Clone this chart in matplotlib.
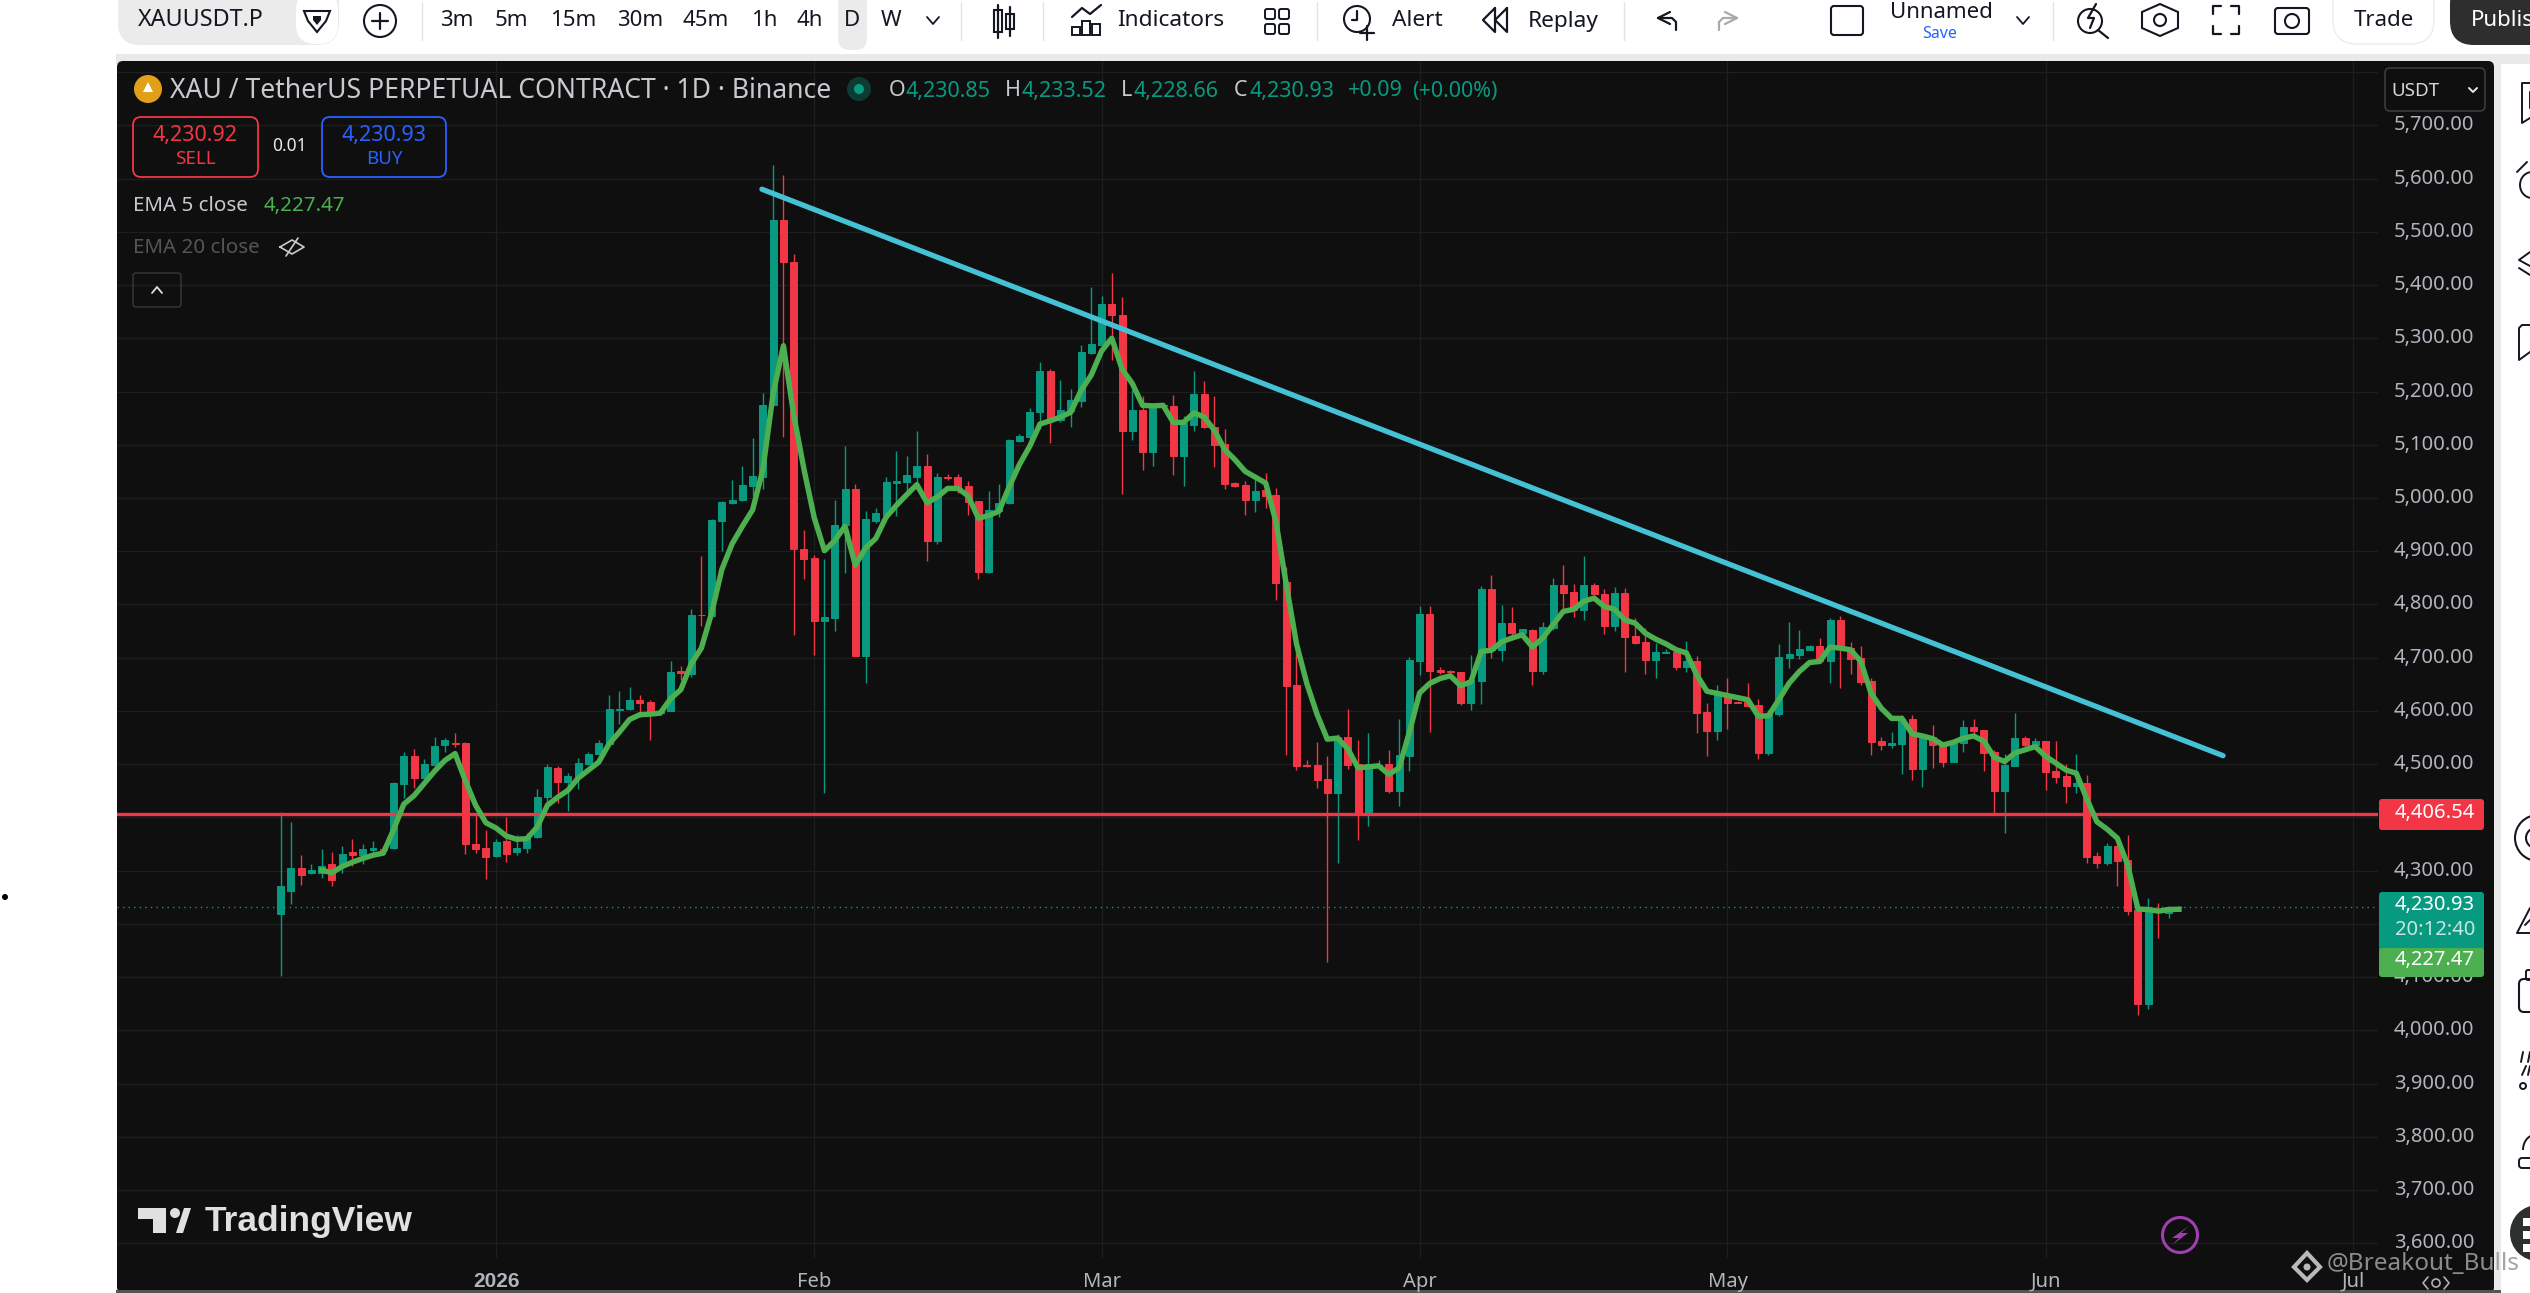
import matplotlib
matplotlib.use('Agg')
import matplotlib.pyplot as plt
import numpy as np
from matplotlib.patches import Rectangle, FancyBboxPatch, Circle, Polygon, Arc
from matplotlib.transforms import ScaledTranslation

plt.rcParams['font.family'] = ['Noto Sans', 'DejaVu Sans']

# daily candles from 11 Dec, index 21 is 1 Jan 2026
opens = [4219,4261,4305,4295,4296,4313,4312,4335,4329,4339,
         4340,4342,4463,4516,4475,4498,4536,4540,4539,4351,
         4343,4327,4356,4335,4342,4363,4438,4492,4466,4476,
         4501,4520,4537,4602,4604,4621,4616,4596,4600,4675,
         4669,4781,4779,4956,4990,4996,5022,5039,5174,5522,
         5444,4904,4887,4769,4775,4950,5016,4703,4957,4969,
         5029,5030,5040,5061,4919,5039,5039,5022,4994,4861,
         4976,4990,5107,5114,5161,5239,5147,5163,5183,5272,
         5288,5365,5344,5125,5166,5086,5172,5172,5078,5138,
         5196,5134,5102,5028,5024,4997,5015,5005,4842,4648,
         4499,4499,4472,4445,4551,4500,4406,4497,4500,4450,
         4516,4694,4782,4676,4675,4673,4615,4657,4829,4715,
         4765,4746,4752,4675,4756,4837,4824,4790,4837,4820,
         4760,4822,4741,4730,4696,4709,4711,4683,4694,4598,
         4563,4631,4617,4617,4612,4521,4595,4700,4705,4715,
         4722,4694,4771,4719,4700,4657,4544,4536,4538,4585,
         4491,4551,4538,4505,4540,4570,4565,4523,4450,4497,
         4550,4536,4544,4488,4478,4459,4465,4328,4315,4347,
         4320,4227,4050,4225,4221,4230.85]
highs = [4411,4391,4330,4312,4341,4335,4346,4360,4350,4355,
         4346,4467,4522,4528,4509,4552,4549,4558,4541,4407,
         4376,4360,4400,4367,4370,4453,4501,4496,4484,4512,
         4522,4545,4630,4637,4645,4630,4620,4600,4693,4685,
         4792,4891,4961,4995,5034,5061,5112,5197,5626,5606,
         5459,4939,4893,4886,4997,5097,5027,4975,4982,5040,
         5088,5078,5125,5083,5047,5045,5045,5031,4994,5014,
         5026,5110,5121,5169,5255,5242,5221,5204,5288,5397,
         5380,5422,5378,5202,5192,5175,5179,5194,5154,5238,
         5220,5191,5129,5030,5031,5036,5047,5018,4870,4740,
         4507,4542,4516,4557,4603,4545,4559,4507,4527,4585,
         4701,4798,4798,4682,4676,4673,4705,4835,4856,4799,
         4795,4754,4754,4767,4850,4874,4839,4891,4840,4829,
         4832,4831,4774,4755,4727,4717,4715,4732,4703,4615,
         4649,4662,4619,4653,4623,4602,4726,4767,4752,4724,
         4737,4774,4779,4730,4722,4662,4551,4560,4593,4593,
         4553,4574,4542,4546,4583,4585,4565,4527,4520,4596,
         4553,4550,4544,4544,4500,4520,4480,4336,4352,4350,
         4367,4229,4249,4239,4233,4233.52]
lows = [4102,4237,4273,4293,4286,4271,4295,4308,4313,4331,
        4331,4341,4436,4456,4473,4497,4523,4533,4331,4333,
        4284,4325,4316,4329,4333,4362,4428,4428,4413,4453,
        4499,4518,4535,4576,4602,4589,4545,4594,4599,4659,
        4664,4759,4777,4901,4988,4995,5003,5017,5173,5115,
        4743,4848,4706,4446,4751,4859,4703,4653,4953,4967,
        4967,5013,5027,4882,4914,5034,5009,4968,4847,4860,
        4965,4988,5106,5108,5130,5103,5142,5134,5170,5270,
        5287,5260,5007,5108,5052,5061,5169,5043,5022,5125,
        5131,5058,5016,5021,4968,4973,4981,4808,4517,4490,
        4495,4455,4128,4314,4491,4358,4383,4495,4446,4421,
        4487,4668,4560,4669,4672,4612,4602,4613,4700,4694,
        4734,4745,4649,4670,4752,4790,4777,4771,4818,4745,
        4750,4673,4726,4670,4662,4708,4677,4673,4559,4516,
        4546,4566,4615,4608,4509,4518,4591,4681,4698,4715,
        4691,4653,4643,4670,4649,4518,4527,4531,4482,4471,
        4458,4493,4495,4504,4523,4555,4488,4408,4371,4496,
        4533,4533,4452,4465,4428,4446,4315,4305,4311,4272,
        4217,4028,4041,4174,4212,4228.66]
closes = [4272,4305,4292,4302,4309,4282,4331,4330,4340,4342,
          4338,4465,4516,4475,4501,4534,4545,4537,4351,4340,
          4325,4354,4332,4343,4363,4439,4494,4466,4477,4503,
          4520,4539,4603,4603,4621,4615,4597,4600,4674,4672,
          4781,4780,4958,4992,4997,5024,5041,5175,5522,5443,
          4904,4886,4769,4776,4950,5017,4703,4960,4971,5030,
          5031,5043,5061,4919,5039,5037,5021,4992,4861,4978,
          4991,5108,5116,5162,5239,5148,5165,5185,5274,5290,
          5365,5343,5125,5166,5086,5169,5175,5078,5141,5196,
          5133,5100,5026,5023,4997,5014,5004,4840,4647,4497,
          4497,4471,4445,4552,4499,4408,4500,4499,4450,4517,
          4696,4782,4675,4674,4674,4615,4658,4829,4715,4765,
          4746,4753,4675,4757,4837,4822,4790,4837,4820,4760,
          4822,4739,4728,4696,4711,4711,4683,4693,4596,4563,
          4631,4615,4615,4610,4521,4596,4702,4707,4717,4722,
          4694,4771,4717,4698,4655,4542,4536,4540,4585,4491,
          4550,4536,4505,4542,4570,4562,4521,4450,4499,4550,
          4536,4544,4486,4476,4459,4465,4326,4315,4347,4319,
          4225,4050,4227,4224,4232,4230.93]
# EMA 5 as drawn, starts at candle 4
ema5 = [4301,4296,4308,4316,4323,4329,4333,4377,4425,4441,
        4464,4487,4507,4520,4469,4423,4390,4380,4365,4359,
        4360,4382,4423,4438,4451,4474,4489,4504,4538,4560,
        4584,4593,4594,4596,4623,4640,4688,4718,4784,4866,
        4914,4947,4978,5054,5197,5286,5156,5054,4963,4901,
        4920,4947,4874,4906,4924,4964,4986,5006,5025,4991,
        5002,5018,5018,5004,4962,4967,4975,5021,5063,5097,
        5139,5145,5152,5161,5202,5231,5276,5300,5242,5215,
        5174,5173,5174,5142,5142,5160,5152,5127,5091,5072,
        5050,5039,5028,4955,4838,4726,4652,4594,4547,4549,
        4529,4493,4495,4497,4481,4493,4560,4634,4652,4661,
        4666,4647,4655,4712,4714,4730,4737,4743,4720,4737,
        4762,4787,4791,4806,4812,4796,4791,4771,4765,4746,
        4735,4726,4715,4709,4668,4637,4633,4629,4625,4621,
        4590,4591,4621,4652,4674,4691,4693,4720,4718,4715,
        4693,4633,4605,4586,4586,4557,4553,4548,4536,4541,
        4549,4553,4543,4513,4505,4521,4527,4533,4515,4502,
        4489,4483,4436,4392,4378,4361,4311,4228,4227,4224,
        4227,4227.47]
price_ticks = [3600,3700,3800,3900,4000,4100,4200,4300,4400,4500,4600,
               4700,4800,4900,5000,5100,5200,5300,5400,5500,5600,5700,5800]
month_pos = [21, 52, 80, 111, 141, 172, 202]
month_labels = ['2026', 'Feb', 'Mar', 'Apr', 'May', 'Jun', 'Jul']
trend_x = [46.9, 189.3]
trend_y = [5580, 4516]
resistance = 4406.54
last_close = 4230.93

UP, DOWN = '#089981', '#f23645'
PANE = '#0f0f0f'
INK = '#131722'
LEG = '#c8cad0'
W, H = 2530, 1293

fig = plt.figure(figsize=(W / 100, H / 100), dpi=100, facecolor='white')


def px_axes(zorder):
    a = fig.add_axes([0, 0, 1, 1], zorder=zorder)
    a.set_xlim(0, W)
    a.set_ylim(H, 0)
    a.axis('off')
    return a


bg = px_axes(0)
top = px_axes(2)

# page background
bg.add_patch(Rectangle((116, 54), W - 116, 10, fc='#e9e9e9', ec='none'))
bg.add_patch(Rectangle((2493, 54), 8, H, fc='#e9e9e9', ec='none'))
bg.add_patch(FancyBboxPatch((123, 67), 2365, 1220, boxstyle='round,pad=6,rounding_size=6', fc=PANE, ec='none'))
bg.add_patch(Rectangle((116, 1290), 2385, 3, fc='#555555', ec='none'))

# price chart
L, R, T, B = 117, 2378, 61, 1258
ax = fig.add_axes([L / W, 1 - B / H, (R - L) / W, (B - T) / H], zorder=1)
ax.patch.set_alpha(0)
ax.set_xlim(-15.95, 204.4)
ax.set_ylim(3572.5, 5820.8)
for s in ax.spines.values():
    s.set_visible(False)
ax.set_yticks(price_ticks)
# the 5,800 line has no label, the currency box sits there
ax.set_yticklabels([f'{p:,.2f}' if p < 5800 else '' for p in price_ticks])
ax.yaxis.tick_right()
ax.set_xticks(month_pos)
ax.set_xticklabels(month_labels)
ax.tick_params(axis='y', length=0, pad=11.5, labelsize=14.5, labelcolor='#b2b5be')
ax.tick_params(axis='x', length=0, pad=10, labelsize=14.5, labelcolor='#b2b5be')
first = ax.get_xticklabels()[0]
first.set_fontfamily('Liberation Sans')
first.set_fontweight('bold')
first.set_fontsize(15)
ax.grid(True, color='#1e1e1e', lw=1)
ax.set_axisbelow(True)
# tick labels sit a little higher than the font centre gives
nudge = ScaledTranslation(0, 2.5 / 100, fig.dpi_scale_trans)
for t in ax.get_yticklabels():
    t.set_transform(t.get_transform() + nudge)

ax.axhline(last_close, color=UP, lw=1, ls=(0, (1, 3)), zorder=1.5)

idx = np.arange(len(closes))
o, h, l, c = map(np.array, (opens, highs, lows, closes))
colors = np.where(c >= o, UP, DOWN)
ax.vlines(idx, l, h, colors=colors, lw=1.0, zorder=2)
ax.bar(idx, np.abs(c - o), bottom=np.minimum(o, c), width=0.68, color=colors,
       edgecolor=colors, lw=0.7, zorder=3)
ax.plot(idx[4:], ema5, color='#4caf50', lw=3.9, zorder=4, solid_joinstyle='round')
ax.axhline(resistance, color=DOWN, lw=2.4, zorder=3.5)
ax.plot(trend_x, trend_y, color='#45c1d6', lw=3.8, zorder=5, solid_capstyle='round')


def label(x, y, s, size=14.5, color='black', ha='center', **kw):
    top.text(x, y, s, fontsize=size, color=color, ha=ha, va='center', **kw)


def outline(x, y, w, h, fc='none', ec='black', lw=1.4, r=5, a=top):
    a.add_patch(FancyBboxPatch((x + r, y + r), w - 2 * r, h - 2 * r,
                               boxstyle=f'round,pad={r},rounding_size={r}', fc=fc, ec=ec, lw=lw))


def line(xs, ys, color=INK, lw=1.6):
    top.plot(xs, ys, color=color, lw=lw, solid_capstyle='round', solid_joinstyle='round')


# toolbar
outline(118, -20, 221, 65, fc='#ebebeb', ec='none', r=22)
outline(296, -10, 42, 54, fc='white', ec='none', r=20)
label(201, 20, 'XAUUSDT.P', 16.8, INK)
top.add_patch(Polygon([(304, 11), (330, 11), (326, 21), (317, 32), (308, 21)], fc='none', ec=INK, lw=1.5))
top.add_patch(Polygon([(313, 16), (321, 16), (321, 20), (317, 25), (313, 20)], fc=INK, ec='none'))
top.add_patch(Circle((380, 21), 16, fc='none', ec=INK, lw=1.5))
line([372, 388], [21, 21]); line([380, 380], [13, 29])
outline(838, -20, 29, 70, fc='#ebebeb', ec='none', r=12)
for name, x in zip(['3m', '5m', '15m', '30m', '45m', '1h', '4h', 'D', 'W'],
                   [457, 511, 573, 640, 706, 764, 810, 852, 891]):
    label(x, 20, name, 16, INK)
line([927, 933, 939], [17, 24, 17], lw=1.3)
for x in [422, 961, 1043, 1317, 1624, 2053]:
    line([x, x], [2, 40], color='#e4e4e4', lw=1)
# candle icon
line([998, 998], [5, 38]); line([1010, 1010], [7, 36])
top.add_patch(Rectangle((994, 10), 8, 22, fc='white', ec=INK, lw=1.5))
top.add_patch(Rectangle((1006, 14), 8, 15, fc='white', ec=INK, lw=1.5))
# indicators icon
line([1072, 1082, 1090, 1101], [17, 8, 14, 5])
for xb, yb in zip([1072, 1082, 1092], [27, 21, 24]):
    top.add_patch(Rectangle((xb, yb), 8, 35 - yb, fc='none', ec=INK, lw=1.4))
label(1171, 20, 'Indicators', 16.3, INK)
for xb in [1265, 1279]:
    for yb in [9, 24]:
        outline(xb, yb, 10, 10, ec=INK, lw=1.4, r=2)
# alert icon
top.add_patch(Circle((1357, 19), 13, fc='none', ec=INK, lw=1.5))
line([1357, 1357, 1352], [11, 20, 20]); line([1360, 1374], [33, 33]); line([1367, 1367], [26, 40])
label(1417, 20, 'Alert', 16.3, INK)
line([1495, 1483, 1495, 1495], [8, 20, 32, 8]); line([1507, 1495, 1507, 1507], [8, 20, 32, 8])
label(1563, 21, 'Replay', 16.3, INK)
line([1670, 1658, 1670], [12, 18, 24]); line([1658, 1672, 1676, 1676], [18, 18, 22, 30])
line([1725, 1737, 1725], [12, 18, 24], color='#aaaaaa'); line([1737, 1723, 1719, 1719], [18, 18, 22, 30], color='#aaaaaa')
outline(1831, 6, 32, 29, ec=INK, lw=1.5, r=3)
label(1941, 13, 'Unnamed', 16, INK)
label(1940, 34, 'Save', 11.5, '#2962ff')
line([2017, 2023, 2029], [17, 24, 17], lw=1.3)
# search, hex, corners, camera icons
top.add_patch(Circle((2090, 21), 12, fc='none', ec=INK, lw=1.5))
line([2098, 2108], [30, 38]); line([2096, 2088, 2094, 2090], [4, 18, 18, 28])
top.add_patch(Polygon([(2160, 4), (2178, 12), (2178, 28), (2160, 36), (2142, 28), (2142, 12)], fc='none', ec=INK, lw=1.5))
top.add_patch(Circle((2160, 20), 6, fc='none', ec=INK, lw=1.5))
line([2213, 2213, 2221], [14, 6, 6]); line([2231, 2239, 2239], [6, 6, 14])
line([2213, 2213, 2221], [26, 34, 34]); line([2231, 2239, 2239], [34, 34, 26])
outline(2275, 8, 34, 26, ec=INK, lw=1.5, r=3)
top.add_patch(Circle((2292, 21), 7, fc='none', ec=INK, lw=1.5))
outline(2333, -20, 101, 64, fc='white', ec='#ececec', lw=1, r=24)
label(2384, 20, 'Trade', 16, INK)
outline(2450, -20, 120, 65, fc='#2e2e2e', ec='none', r=24)
label(2471, 20, 'Publis', 16, 'white', ha='left')

# legend
top.add_patch(Circle((148, 89), 14, fc='#e0a01a', ec='none'))
top.add_patch(Polygon([(148, 82), (153, 92), (143, 92)], fc='white', ec='none'))
label(170, 91, 'XAU / TetherUS PERPETUAL CONTRACT · 1D · Binance', 19.1, LEG, ha='left')
top.add_patch(Circle((859, 89), 12, fc='#0c3b33', ec='none'))
top.add_patch(Circle((859, 89), 5, fc=UP, ec='none'))
for x, s, col in [(889, 'O', LEG), (906, '4,230.85', UP), (1005, 'H', LEG), (1022, '4,233.52', UP),
                  (1121, 'L', LEG), (1134, '4,228.66', UP), (1234, 'C', LEG), (1250, '4,230.93', UP),
                  (1348, '+0.09', UP), (1412, '(+0.00%)', UP)]:
    label(x, 91, s, 15.5, col, ha='left')
outline(133, 117, 125, 60, ec=DOWN, lw=1.3, r=8)
label(195, 135, '4,230.92', 15.5, DOWN)
label(195, 159, 'SELL', 13.5, DOWN)
label(289, 146, '0.01', 12.5, '#e8e8e8')
outline(322, 117, 124, 60, ec='#2962ff', lw=1.3, r=8)
label(384, 135, '4,230.93', 15.5, '#2962ff')
label(384, 159, 'BUY', 13.5, '#2962ff')
label(133, 206, 'EMA 5 close', 14.8, LEG, ha='left')
label(264, 206, '4,227.47', 14.8, '#4caf50', ha='left')
label(133, 248, 'EMA 20 close', 14.8, '#555555', ha='left')
line([280, 292, 304, 292, 280], [247, 240, 247, 254, 247], color='#cccccc', lw=1.2)
line([286, 298], [256, 238], color='#cccccc', lw=1.2)
outline(133, 273, 48, 34, ec='#3a3a3a', lw=1, r=3)
line([152, 157, 162], [293, 287, 293], color='#dddddd', lw=1.3)

# price scale boxes
outline(2385, 68, 100, 43, fc=PANE, ec='#444444', lw=1, r=5)
label(2391, 91, 'USDT', 13.5, '#d8d8d8', ha='left')
line([2469, 2473, 2477], [88, 92, 88], color='#e8e8e8', lw=1.4)
outline(2379, 799, 105, 31, fc=DOWN, ec='none', r=3)
outline(2379, 892, 105, 60, fc=UP, ec='none', r=3)
outline(2379, 948, 105, 29, fc='#4caf50', ec='none', r=3)
label(2435, 813, '4,406.54', 14.5, 'white', weight='medium')
label(2435, 905, '4,230.93', 14.5, 'white', weight='medium')
label(2435, 930, '20:12:40', 14.5, '#c4e7e0')
label(2435, 960, '4,227.47', 14.5, 'white', weight='medium')

# TradingView logo
for pts in [[(138, 1208), (166, 1208), (166, 1233), (153, 1233), (153, 1219), (138, 1219)],
            [(176, 1233), (184, 1208), (191, 1208), (183, 1233)]]:
    top.add_patch(Polygon(pts, fc='#e0e0e0', ec='none'))
top.add_patch(Circle((175, 1213), 5, fc='#e0e0e0', ec='none'))
label(205, 1221, 'TradingView', 25.5, '#e0e0e0', ha='left', weight='bold', family='Liberation Sans')

# lightning button
top.add_patch(Circle((2180, 1235), 17.5, fc='none', ec='#a040b0', lw=2.2))
top.add_patch(Polygon([(2189, 1226), (2172, 1238), (2179, 1238), (2172, 1245), (2188, 1233), (2181, 1233)], fc='#a040b0', ec='none'))

# watermark
top.add_patch(Polygon([(2307, 1253), (2320, 1267), (2307, 1280), (2294, 1267)], fc='none', ec='#d8d8d8', lw=3, alpha=0.85))
top.add_patch(Circle((2307, 1267), 3.5, fc='#d8d8d8', ec='none', alpha=0.85))
label(2327, 1264, '@Breakout_Bulls', 17.5, '#9a9a9a', ha='left', alpha=0.9)
line([2428, 2423, 2428], [1277, 1283, 1289], color='#b0b0b0', lw=1.2)
line([2444, 2449, 2444], [1277, 1283, 1289], color='#b0b0b0', lw=1.2)
top.add_patch(Circle((2436, 1283), 4, fc='none', ec='#b0b0b0', lw=1.2))

# clipped side toolbar
line([2530, 2522, 2522, 2530], [83, 83, 123, 118], lw=1.4)
line([2530, 2530], [92, 108], lw=1.4)
top.add_patch(Arc((2532, 185), 24, 26, theta1=90, theta2=270, ec=INK, lw=1.4))
line([2517, 2527], [172, 162], lw=1.4)
line([2530, 2519, 2530], [252, 260, 266], lw=1.4); line([2519, 2530], [268, 275], lw=1.4)
line([2530, 2522, 2519, 2519, 2530], [325, 325, 328, 360, 352], lw=1.4)
top.add_patch(Circle((2538, 838), 23, fc='none', ec=INK, lw=1.5))
top.add_patch(Circle((2536, 838), 10, fc='none', ec=INK, lw=1.5))
line([2530, 2517, 2530], [908, 933, 933], lw=1.4); line([2525, 2530], [925, 920], lw=1.4)
outline(2519, 979, 30, 33, ec=INK, lw=1.5, r=5)
outline(2526, 970, 20, 10, ec=INK, lw=1.4, r=2)
line([2523, 2521], [1052, 1062], lw=1.4); line([2530, 2528], [1052, 1062], lw=1.4)
line([2526, 2522], [1066, 1075], lw=1.4); line([2530, 2528], [1066, 1075], lw=1.4)
top.add_patch(Circle((2523, 1086), 3, fc='none', ec=INK, lw=1.4))
top.add_patch(Arc((2535, 1150), 24, 30, theta1=180, theta2=270, ec=INK, lw=1.4))
outline(2519, 1158, 30, 10, ec=INK, lw=1.4, r=3)
top.add_patch(Circle((2538, 1233), 28, fc='#2e3030', ec='none'))
for y in [1222, 1235, 1248]:
    top.add_patch(Rectangle((2523, y - 4), 10, 8, fc='white', ec='none'))
top.add_patch(Circle((5, 897), 3, fc='black', ec='none'))

fig.savefig('out.png', dpi=100, facecolor='white')
